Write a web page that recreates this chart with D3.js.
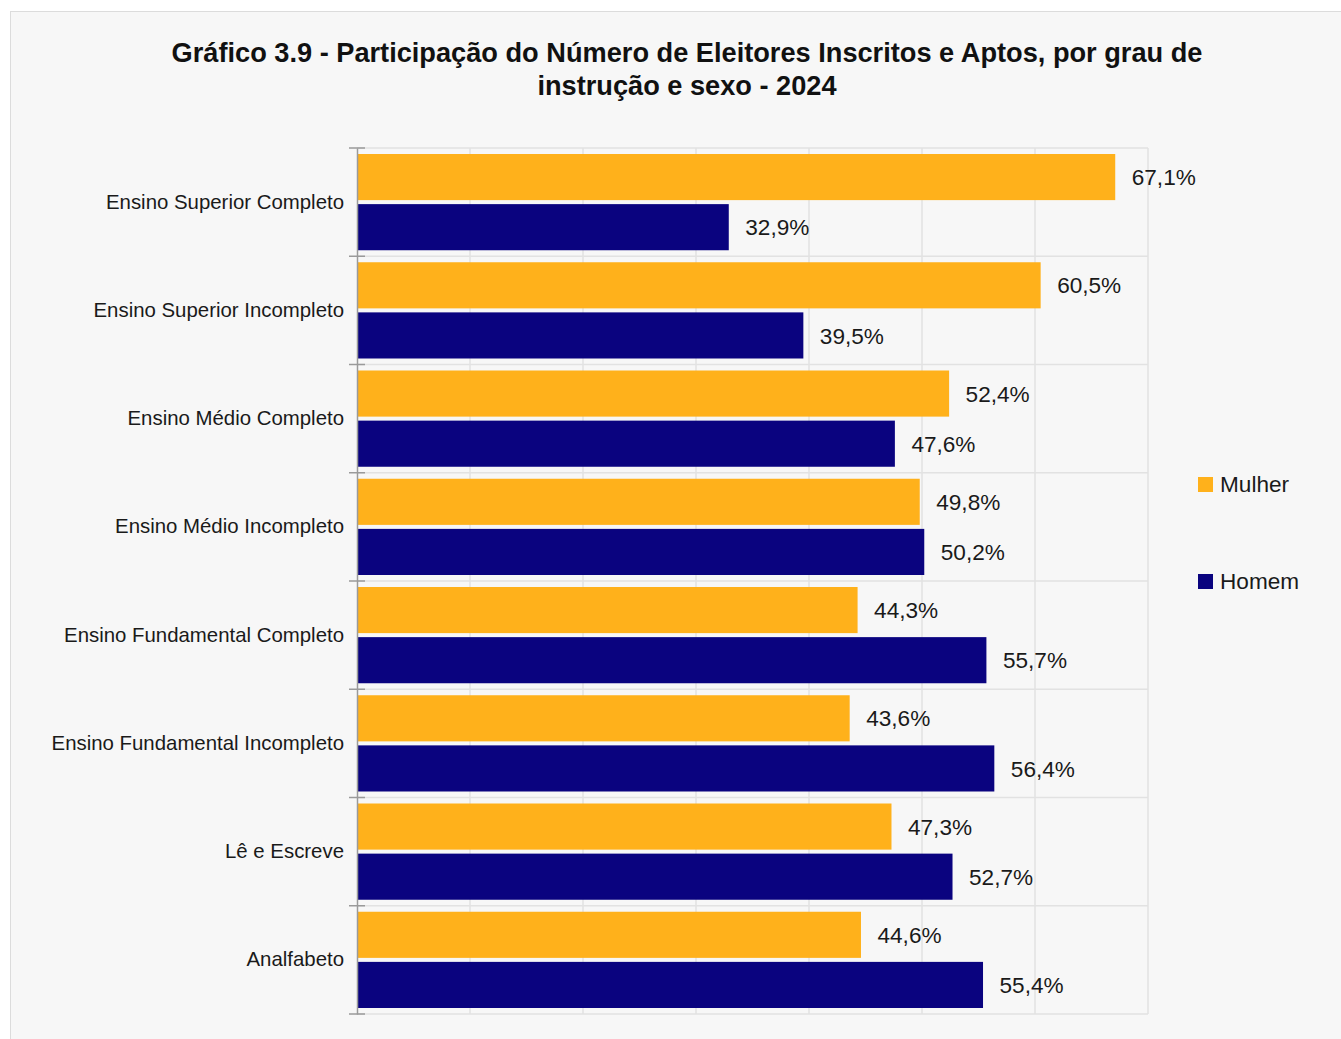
<!DOCTYPE html>
<html>
<head>
<meta charset="utf-8">
<script src="https://cdn.jsdelivr.net/npm/d3@7"></script>
<style>
  body { margin: 0; background: #fff; }
  text { font-family: "Liberation Sans", Arial, sans-serif; }
</style>
</head>
<body>
<div id="grafico"></div>
<script>
const categories = [
  "Ensino Superior Completo",
  "Ensino Superior Incompleto",
  "Ensino Médio Completo",
  "Ensino Médio Incompleto",
  "Ensino Fundamental Completo",
  "Ensino Fundamental Incompleto",
  "Lê e Escreve",
  "Analfabeto"
];
const series = ["Mulher", "Homem"];
const mulher = [67.1, 60.5, 52.4, 49.8, 44.3, 43.6, 47.3, 44.6];
const homem = [32.9, 39.5, 47.6, 50.2, 55.7, 56.4, 52.7, 55.4];
const x_ticks = [0, 10, 20, 30, 40, 50, 60, 70];
const title_lines = [
  "Gráfico 3.9 - Participação do Número de Eleitores Inscritos e Aptos, por grau de",
  "instrução e sexo - 2024"
];

const colors = { Mulher: "#ffb11b", Homem: "#0a037f" };
const W = 1341, H = 1039;
const plot = { left: 357, right: 1148, top: 148, bottom: 1014 };

const svg = d3.select("#grafico").append("svg")
  .attr("width", W).attr("height", H);

// painel de fundo
svg.append("rect")
  .attr("x", 10.5).attr("y", 11.5)
  .attr("width", W).attr("height", H)
  .attr("fill", "#f7f7f7")
  .attr("stroke", "#dcdcdc");

svg.append("g").selectAll("text")
  .data(title_lines)
  .join("text")
  .attr("x", 687)
  .attr("y", (d, i) => 62 + i * 33)
  .attr("text-anchor", "middle")
  .attr("font-size", 27.2)
  .attr("font-weight", "bold")
  .attr("fill", "#111")
  .text(d => d);

const x_scale = d3.scaleLinear().domain([0, 70]).range([plot.left, plot.right]);
const y_scale = d3.scaleBand().domain(categories).range([plot.top, plot.bottom]);
const y_inner = d3.scaleBand().domain(series)
  .range([6, y_scale.bandwidth() - 6]).paddingInner(0.08);

// grade
const grid = svg.append("g").attr("stroke", "#e2e2e2").attr("stroke-width", 1.5);
grid.selectAll("line.v")
  .data(x_ticks.slice(1))
  .join("line")
  .attr("class", "v")
  .attr("x1", d => x_scale(d)).attr("x2", d => x_scale(d))
  .attr("y1", plot.top).attr("y2", plot.bottom);
grid.selectAll("line.h")
  .data(categories.map((c, i) => i).concat([categories.length]))
  .join("line")
  .attr("class", "h")
  .attr("x1", plot.left).attr("x2", plot.right)
  .attr("y1", d => plot.top + d * y_scale.step())
  .attr("y2", d => plot.top + d * y_scale.step());

const data = categories.map((c, i) => ({ cat: c, Mulher: mulher[i], Homem: homem[i] }));

const groups = svg.append("g").selectAll("g")
  .data(data)
  .join("g")
  .attr("transform", d => `translate(0, ${y_scale(d.cat)})`);

groups.selectAll("rect")
  .data(d => series.map(s => ({ s: s, v: d[s] })))
  .join("rect")
  .attr("x", x_scale(0))
  .attr("y", d => y_inner(d.s))
  .attr("width", d => x_scale(d.v) - x_scale(0))
  .attr("height", y_inner.bandwidth())
  .attr("fill", d => colors[d.s]);

groups.selectAll("text")
  .data(d => series.map(s => ({ s: s, v: d[s] })))
  .join("text")
  .attr("x", d => x_scale(d.v) + 16.5)
  .attr("y", d => y_inner(d.s) + y_inner.bandwidth() / 2)
  .attr("dy", "0.36em")
  .attr("font-size", 22.6)
  .attr("fill", "#1a1a1a")
  .text(d => d3.format(".1f")(d.v).replace(".", ",") + "%");

// eixo y
const y_axis = d3.axisLeft(y_scale).tickSize(0).tickPadding(13);
const gy = svg.append("g")
  .attr("transform", `translate(${plot.left}, 0)`)
  .call(y_axis);
gy.select(".domain").attr("stroke", "#9a9a9a").attr("stroke-width", 1.5);
gy.selectAll(".tick text")
  .attr("font-size", 20.4)
  .attr("fill", "#1a1a1a")
  .style("font-family", "'Liberation Sans', Arial, sans-serif");

svg.append("g").attr("stroke", "#9a9a9a").attr("stroke-width", 1.5)
  .selectAll("line")
  .data(categories.map((c, i) => i).concat([categories.length]))
  .join("line")
  .attr("x1", plot.left - 8).attr("x2", plot.left + 8)
  .attr("y1", d => plot.top + d * y_scale.step())
  .attr("y2", d => plot.top + d * y_scale.step());

// legenda
const legend = svg.append("g").attr("transform", "translate(1198, 0)");
const leg = legend.selectAll("g")
  .data(series)
  .join("g")
  .attr("transform", (d, i) => `translate(0, ${484 + i * 97})`);
leg.append("rect")
  .attr("x", 0).attr("y", -7)
  .attr("width", 15).attr("height", 15)
  .attr("fill", d => colors[d]);
leg.append("text")
  .attr("x", 22).attr("y", 0)
  .attr("dy", "0.36em")
  .attr("font-size", 22.6)
  .attr("fill", "#1a1a1a")
  .text(d => d);
</script>
</body>
</html>
